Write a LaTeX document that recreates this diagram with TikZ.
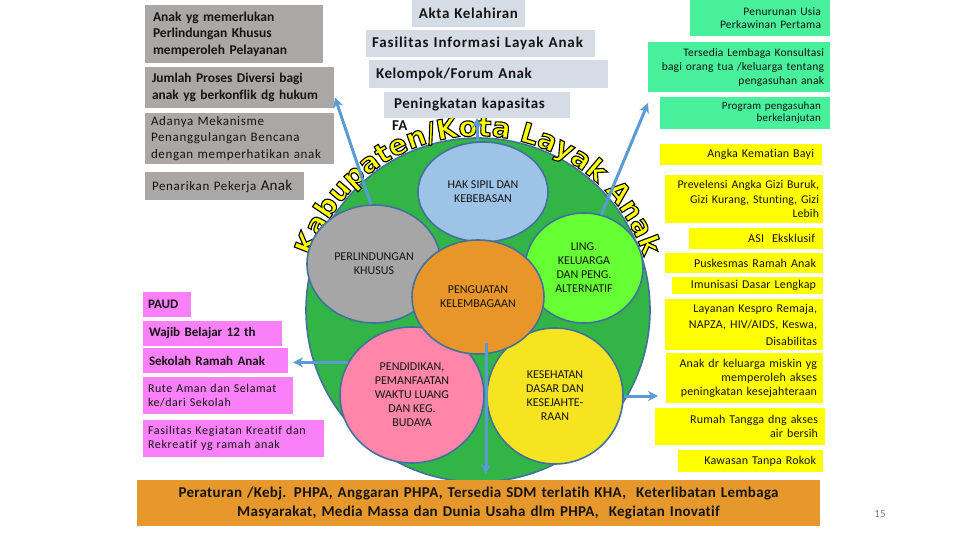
\documentclass[tikz,border=0pt]{standalone}
\usepackage{fontspec}
\setmainfont{Carlito}[Ligatures=NoCommon]
\newfontfamily\arcfam{DejaVu Sans}[UprightFont={* Bold}]
\usetikzlibrary{shapes.geometric,arrows.meta,decorations.text,calc}
\definecolor{boxgray}{RGB}{170,167,167}
\definecolor{topblue}{RGB}{214,220,229}
\definecolor{mint}{RGB}{72,240,156}
\definecolor{ylw}{RGB}{255,255,0}
\definecolor{pinkb}{RGB}{250,128,250}
\definecolor{banner}{RGB}{230,152,45}
\definecolor{biggreen}{RGB}{50,180,70}
\definecolor{cblue}{RGB}{157,195,230}
\definecolor{cgray}{RGB}{166,166,166}
\definecolor{corange}{RGB}{232,150,42}
\definecolor{cgreen}{RGB}{102,255,51}
\definecolor{cpink}{RGB}{255,134,168}
\definecolor{cyellow}{RGB}{246,228,32}
\definecolor{edge}{RGB}{65,113,156}
\definecolor{arrowc}{RGB}{91,155,213}
\definecolor{ink}{RGB}{20,20,20}
\newcommand{\lsp}[1]{\addfontfeatures{LetterSpace=#1}}
\tikzset{
  bx/.style={anchor=north west, inner sep=0pt, outer sep=0pt, text=ink, font=\fontsize{12}{14}\selectfont\lsp{1.5}},
  grayb/.style={bx, fill=boxgray, align=left},
  topb/.style={bx, fill=topblue, align=left, font=\bfseries\fontsize{15}{17}\selectfont\lsp{4}},
  mintb/.style={bx, fill=mint, align=right},
  ylwb/.style={bx, fill=ylw, align=right},
  pinkbx/.style={bx, fill=pinkb, align=left},
  circ/.style={ellipse, draw=edge, line width=1.6pt, inner sep=0pt, align=center, text=ink, font=\fontsize{12}{14}\selectfont},
  arr/.style={draw=arrowc, line width=3pt, -{Stealth[length=10pt,width=10pt]}},
  arcdeco/.style={decorate, decoration={text along path, text align=center, text={|\arcfam\fontsize{27.5}{27.5}\selectfont\color{ylw}\special{pdf:literal direct 0 0 0 RG 1.1 w 2 Tr}|Kabupaten/Kota Layak Anak}}}
}
\begin{document}
\begin{tikzpicture}[x=1pt,y=-1pt]
\useasboundingbox[fill=white] (0,0) rectangle (960,540);

% big circle
\node[circle, fill=biggreen, draw=edge, line width=1.6pt, minimum size=344pt, inner sep=0pt] (big) at (478,310) {};

% arc title
\path[arcdeco] ($(478,310)+(196:174)$) arc (196:344:174);

% inner circles
\node[circ, fill=cblue, minimum width=130pt, minimum height=100pt] (hak) at (483,192) {HAK SIPIL DAN\\KEBEBASAN};
\node[circ, fill=cgray, minimum width=134pt, minimum height=118pt] (perl) at (374,264) {PERLINDUNGAN\\KHUSUS};
\node[circ, fill=cgreen, minimum width=118pt, minimum height=110pt] (ling) at (584,268) {LING.\\KELUARGA\\DAN PENG.\\ALTERNATIF};
\node[circ, fill=cpink, minimum width=144pt, minimum height=136pt] (pend) at (412,395) {PENDIDIKAN,\\PEMANFAATAN\\WAKTU LUANG\\DAN KEG.\\BUDAYA};
\node[circ, fill=cyellow, minimum width=136pt, minimum height=136pt] (kes) at (555,396) {KESEHATAN\\DASAR DAN\\KESEJAHTE-\\RAAN};
\node[circ, fill=corange, minimum width=132pt, minimum height=114pt] (peng) at (478,297) {PENGUATAN\\KELEMBAGAAN};

% gray boxes
\node[grayb, minimum width=178pt, minimum height=58pt, text width=162pt, font=\bfseries\fontsize{13.5}{16.5}\selectfont] (g1) at (145,5) {Anak yg memerlukan\\Perlindungan Khusus\\memperoleh Pelayanan};
\node[grayb, minimum width=189pt, minimum height=41pt, text width=175pt, font=\bfseries\fontsize{13.4}{17}\selectfont] (g2) at (145,67) {Jumlah Proses Diversi bagi\\anak yg berkonflik dg hukum};
\node[grayb, minimum width=189pt, minimum height=51pt, text width=177pt, font=\fontsize{13}{16.5}\selectfont\lsp{5}] (g3) at (145,113) {Adanya Mekanisme\\Penanggulangan Bencana\\dengan memperhatikan anak};
\node[grayb, minimum width=159pt, minimum height=28pt, text width=145pt, font=\fontsize{13}{16}\selectfont\lsp{5}] (g4) at (145,172) {Penarikan Pekerja {\fontsize{15}{16}\selectfont\lsp{2}Anak}};

% top middle boxes
\node[topb, minimum width=113pt, minimum height=27pt, text width=109pt, align=center] (b1) at (412,0) {Akta Kelahiran};
\node[topb, minimum width=229pt, minimum height=27pt, text width=217pt, font=\bfseries\fontsize{15}{17}\selectfont\lsp{6}] (b2) at (366,30) {Fasilitas Informasi Layak Anak};
\node[topb, minimum width=239pt, minimum height=28pt, text width=225pt] (b3) at (369,60) {Kelompok/Forum Anak};
\node[topb, minimum width=186pt, minimum height=26pt, text width=166pt] (b4) at (384,92) {Peningkatan kapasitas};
\node[anchor=west, inner sep=0pt, text=ink, font=\bfseries\fontsize{15}{17}\selectfont] (fa) at (392,126) {FA};

% mint boxes
\node[mintb, minimum width=140pt, minimum height=36pt, text width=122pt, font=\fontsize{11.5}{12.5}\selectfont\lsp{2}] (r1) at (690,0) {Penurunan Usia\\Perkawinan Pertama};
\node[mintb, minimum width=182pt, minimum height=50pt, text width=170pt, font=\fontsize{11.5}{14}\selectfont\lsp{2}] (r2) at (648,42) {Tersedia Lembaga Konsultasi\\bagi orang tua /keluarga tentang\\pengasuhan anak};
\node[mintb, minimum width=170pt, minimum height=32pt, text width=152pt, font=\fontsize{11}{12}\selectfont\lsp{2}] (r3) at (660,97) {Program pengasuhan\\berkelanjutan};

% yellow boxes
\node[ylwb, minimum width=162pt, minimum height=21pt, text width=146pt] (y1) at (660,144) {Angka Kematian Bayi};
\node[ylwb, minimum width=158pt, minimum height=48pt, text width=150pt, font=\fontsize{11.8}{14.5}\selectfont\lsp{1}] (y2) at (665,175) {Prevelensi Angka Gizi Buruk,\\Gizi Kurang, Stunting, Gizi\\Lebih};
\node[ylwb, minimum width=134pt, minimum height=21pt, text width=118pt] (y3) at (689,228) {ASI\ \ Eksklusif};
\node[ylwb, minimum width=158pt, minimum height=20pt, text width=144pt] (y4) at (665,253) {Puskesmas Ramah Anak};
\node[ylwb, minimum width=151pt, minimum height=17pt, text width=137pt] (y5) at (672,277) {Imunisasi Dasar Lengkap};
\node[ylwb, minimum width=158pt, minimum height=51pt, text width=146pt, font=\fontsize{12}{16.5}\selectfont\lsp{1.5}] (y6) at (665,299) {Layanan Kespro Remaja,\\NAPZA, HIV/AIDS, Keswa,\\Disabilitas};
\node[ylwb, minimum width=157pt, minimum height=50pt, text width=145pt] (y7) at (666,353) {Anak dr keluarga miskin yg\\memperoleh akses\\peningkatan kesejahteraan};
\node[ylwb, minimum width=170pt, minimum height=37pt, text width=156pt] (y8) at (655,408) {Rumah Tangga dng akses\\air bersih};
\node[ylwb, minimum width=145pt, minimum height=22pt, text width=131pt] (y9) at (678,450) {Kawasan Tanpa Rokok};

% pink boxes
\node[pinkbx, minimum width=48pt, minimum height=25pt, text width=38pt, font=\bfseries\fontsize{13}{15}\selectfont] (p1) at (143,292) {PAUD};
\node[pinkbx, minimum width=139pt, minimum height=25pt, text width=127pt, font=\bfseries\fontsize{13}{15}\selectfont] (p2) at (143,321) {Wajib Belajar 12 th};
\node[pinkbx, minimum width=145pt, minimum height=25pt, text width=133pt, font=\bfseries\fontsize{13}{15}\selectfont] (p3) at (143,348) {Sekolah Ramah Anak};
\node[pinkbx, minimum width=150pt, minimum height=37pt, text width=140pt, font=\fontsize{12}{14}\selectfont\lsp{4.5}] (p4) at (143,377) {Rute Aman dan Selamat\\ke/dari Sekolah};
\node[pinkbx, minimum width=181pt, minimum height=37pt, text width=171pt, font=\fontsize{12}{14}\selectfont\lsp{5.5}] (p5) at (143,420) {Fasilitas Kegiatan Kreatif dan\\Rekreatif yg ramah anak};

% banner
\node[bx, fill=banner, minimum width=683pt, minimum height=46pt, text width=676pt, align=center, font=\bfseries\fontsize{15}{19}\selectfont\lsp{2}] (ban) at (137,480) {Peraturan /Kebj. PHPA, Anggaran PHPA, Tersedia SDM terlatih KHA,\ \ Keterlibatan Lembaga\\Masyarakat, Media Massa dan Dunia Usaha dlm PHPA,\ \ Kegiatan Inovatif};
\node[text=gray, font=\fontsize{11}{13}\selectfont] (pg) at (880,514) {15};

% arrows
\coordinate (lt) at (293,0);
\coordinate (rt) at (658,0);
\coordinate (dtop) at (486,343);
\draw[arr] (perl.93) -- ($(g2.east)+(1,10)$);
\draw[arr] (hak.north -| b4.south) -- (b4.south);
\draw[arr] (ling.72) -- ($(r2.south west)+(0,11)$);
\draw[arr] (pend.153) -- (pend.153 -| lt);
\draw[arr] (kes.east) -- (kes.east -| rt);
\draw[arr] (dtop) -- ($(dtop |- ban.north)+(0,-6)$);
\end{tikzpicture}
\end{document}
